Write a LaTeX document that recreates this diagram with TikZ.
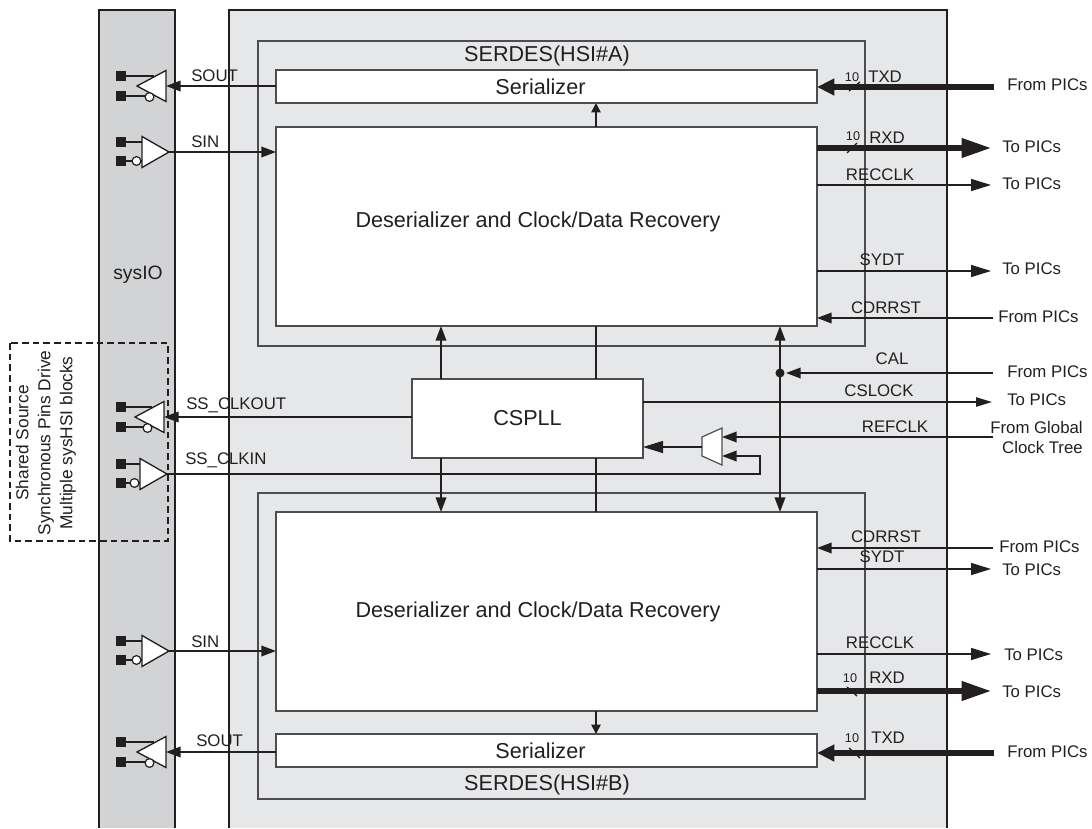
\documentclass[tikz,border=0pt]{standalone}
\usepackage{fontspec}
\setmainfont{Liberation Sans}
\usetikzlibrary{arrows.meta,calc}
\definecolor{ink}{HTML}{231F20}
\definecolor{edge}{HTML}{4D4D4F}
\definecolor{panelgray}{HTML}{E6E7E8}
\definecolor{iogray}{HTML}{D1D3D4}
\newcommand{\txbuf}[3]{% name, base x, centre y
  \coordinate (#1tip) at (#2-29,#3);
  \coordinate (#1base) at (#2,#3);
  \node[pinbox] (#1p) at (121,#3-10) {};
  \node[pinbox] (#1n) at (121,#3+10) {};
  \draw[wire] (#1p.east) -- (#2-12,#3-10);
  \draw[wire] (#1n.east) -- (#2-12,#3+10);
  \draw[buf] (#2-29,#3) -- (#2,#3-15.5) -- (#2,#3+15.5) -- cycle;
  \node[bub] at (#2-16.5,#3+11) {};
}
\newcommand{\rxbuf}[3]{% name, base x, centre y
  \coordinate (#1tip) at (#2+27,#3);
  \node[pinbox] (#1p) at (121,#3-10) {};
  \node[pinbox] (#1n) at (121,#3+9) {};
  \draw[wire] (#1p.east) -- (#2,#3-10);
  \draw[wire] (#1n.east) -- (#2,#3+9);
  \draw[buf] (#2,#3-15.5) -- (#2+27,#3) -- (#2,#3+15.5) -- cycle;
  \node[bub] at (#2-5.5,#3+9) {};
}
\tikzset{
  x=0.75pt,y=-0.75pt,
  wire/.style={draw=ink,line width=1.1pt},
  arr/.style={wire,-{Triangle[length=15pt,width=9pt]}},
  slimarr/.style={wire,-{Triangle[length=12pt,width=7pt]}},
  smallarr/.style={wire,-{Triangle[length=7pt,width=7pt]}},
  midarr/.style={wire,-{Triangle[length=11pt,width=8pt]}},
  busin/.style={wire,line width=3.8pt,-{Triangle[length=13pt,width=12pt,sep=0pt]}},
  busout/.style={wire,line width=3.8pt,-{Triangle[length=22pt,width=14pt]}},
  box/.style={draw=edge,line width=1.2pt,fill=white,anchor=north west,inner sep=0pt,outer sep=0pt,font=\fontsize{16.2pt}{19pt}\selectfont,text=ink},
  frame/.style={draw=edge,line width=1.2pt,fill=panelgray,anchor=north west,inner sep=0pt,outer sep=0pt},
  pinbox/.style={fill=ink,draw=none,minimum size=7.5pt,inner sep=0pt},
  buf/.style={draw=ink,line width=1pt,fill=white,line join=miter},
  bub/.style={circle,draw=ink,line width=0.9pt,fill=white,minimum size=6.6pt,inner sep=0pt},
  lab/.style={font=\fontsize{12.6pt}{15pt}\selectfont,text=ink,inner sep=0pt},
  big/.style={lab,font=\fontsize{16.2pt}{19pt}\selectfont},
  tiny/.style={font=\fontsize{9.5pt}{10pt}\selectfont,text=ink,inner sep=0pt},
}
\begin{document}
\begin{tikzpicture}
\useasboundingbox (0,0) rectangle (1092,828);
% panels
\fill[iogray] (99,10) rectangle (175,828);
\draw[wire] (99,828) -- (99,10) -- (175,10) -- (175,828);
\fill[panelgray] (229,10) rectangle (947,828);
\draw[wire] (229,828) -- (229,10) -- (947,10) -- (947,828);
\node[lab,font=\fontsize{14.5pt}{16pt}\selectfont] (sysio) at (138,275) {sysIO};
% SERDES frames and blocks
\node[frame,minimum width=455.25pt,minimum height=228.75pt] (hsia) at (258,41) {};
\node[frame,minimum width=455.25pt,minimum height=229.5pt] (hsib) at (258,493) {};
\node[big] (hsiatxt) at (547,56) {SERDES(HSI\#A)};
\node[big] (hsibtxt) at (547,785) {SERDES(HSI\#B)};
\node[box,minimum width=405.75pt,minimum height=24.75pt] (serA) at (276,70) {\hspace*{-9pt}Serializer};
\node[box,minimum width=405.75pt,minimum height=149.25pt] (desA) at (276,127) {};
\node[big] (desAtxt) at (538,222) {Deserializer and Clock/Data Recovery};
\node[box,minimum width=405.75pt,minimum height=149.25pt] (desB) at (276,512) {};
\node[big] (desBtxt) at (538,612) {Deserializer and Clock/Data Recovery};
\node[box,minimum width=405.75pt,minimum height=24.75pt] (serB) at (276,734) {\hspace*{-9pt}Serializer};
\node[box,minimum width=173.25pt,minimum height=59.25pt] (pll) at (412,379) {\raisebox{-1.5pt}{CSPLL}};
% mux
\coordinate (muxL) at (702,447);
\coordinate (muxT) at (722,437);
\coordinate (muxU) at (722,456);
\draw[buf,draw=edge,line width=0.9pt] (702,437) -- (722,428) -- (722,465) -- (702,456) -- cycle;
% buffers
\txbuf{ta}{166}{86}
\rxbuf{ra}{142}{152}
\txbuf{tc}{164}{417}
\rxbuf{rc}{140}{474}
\rxbuf{rb}{142}{651}
\txbuf{tb}{166}{752}
% internal vertical connectors
\draw[smallarr] (desA.north -| 596,0) -- (serA.south -| 596,0);
\draw[smallarr] (desB.south -| 596,0) -- (serB.north -| 596,0);
\draw[wire] (pll.north -| 596,0) -- (desA.south -| 596,0);
\draw[wire] (pll.south -| 596,0) -- (desB.north -| 596,0);
\draw[midarr] (pll.north -| 441,0) -- (desA.south -| 441,0);
\draw[midarr] (pll.south -| 441,0) -- (desB.north -| 441,0);
\coordinate (calpt) at (780,373);
\draw[midarr] (calpt) -- (desA.south -| 780,0);
\draw[midarr] (calpt) -- (desB.north -| 780,0);
\fill[ink] (calpt) circle (3.4pt);
% left side signals
\draw[midarr] (serA.west |- tabase) -- (tabase);
\node[lab,anchor=west] (soutA) at (191,76) {SOUT};
\draw[midarr] (ratip) -- (desA.west |- ratip);
\node[lab,anchor=west] (sinA) at (191,142) {SIN};
\draw[midarr] (pll.west |- tctip) -- (tcbase);
\node[lab,anchor=west] (ssout) at (186,405) {SS\_CLKOUT};
\node[lab,anchor=west] (ssin) at (185,460) {SS\_CLKIN};
\draw[wire] (rctip) -- (760,474) -- (760,456) -- (737,456);
\draw[midarr] (737,456) -- (muxU);
\draw[midarr] (ratip |- rbtip) -- (desB.west |- rbtip);
\node[lab,anchor=west] (sinB) at (191,642) {SIN};
\draw[midarr] (serB.west |- tbbase) -- (tbbase);
\node[lab,anchor=west] (soutB) at (196,741) {SOUT};
% mux connectors
\draw[arr] (muxL) -- (pll.east |- muxL);
% right side, top
\node[lab,anchor=west] (f1) at (1007,85) {From PICs};
\coordinate (f1e) at (994,87);
\draw[busin] (f1e) -- (serA.east |- f1e);
\node[lab,anchor=west] (t1) at (1002,147) {To PICs};
\coordinate (t1e) at (991,148);
\draw[busout] (desA.east |- t1e) -- (t1e);
\node[lab,anchor=west] (t2) at (1002,184) {To PICs};
\coordinate (t2e) at (991,185);
\draw[arr] (desA.east |- t2e) -- (t2e);
\node[lab,anchor=west] (t3) at (1002,269) {To PICs};
\coordinate (t3e) at (991,271);
\draw[arr] (desA.east |- t3e) -- (t3e);
\node[lab,anchor=west] (f2) at (998,317) {From PICs};
\coordinate (f2e) at (993,318);
\draw[midarr] (f2e) -- (desA.east |- f2e);
\node[tiny] (n1) at (852,77) {10};
\node[lab,anchor=west] (txa) at (868,77) {TXD};
\node[tiny] (n2) at (853,136) {10};
\node[lab,anchor=west] (rxa) at (869,138) {RXD};
\node[lab] (rca) at (880,175) {RECCLK};
\node[lab] (sya) at (882,260) {SYDT};
\node[lab] (cda) at (886,308) {CDRRST};
\coordinate (s1a) at (849,91); \coordinate (s1b) at (860,82);
\coordinate (s2a) at (847,153); \coordinate (s2b) at (857,143);
\draw[wire,line width=1pt] (s1a) -- (s1b);
\draw[wire,line width=1pt] (s2a) -- (s2b);
% right side, middle
\node[lab,anchor=west] (f3) at (1007,372) {From PICs};
\coordinate (f3e) at (993,373);
\draw[midarr,shorten >=4.5pt] (f3e) -- (calpt);
\node[lab] (cal) at (892,359) {CAL};
\node[lab,anchor=west] (t4) at (1007,400) {To PICs};
\coordinate (t4e) at (992,402);
\draw[slimarr] (pll.east |- t4e) -- (t4e);
\node[lab] (csl) at (879,391) {CSLOCK};
\node[lab,anchor=east,align=right,font=\fontsize{12.6pt}{15pt}\selectfont] (f4) at (1083,437) {From Global\\Clock Tree};
\coordinate (f4e) at (993,437);
\draw[midarr] (f4e) -- (muxT);
\node[lab] (refc) at (895,427) {REFCLK};
% right side, bottom
\node[lab,anchor=west] (f5) at (999,547) {From PICs};
\coordinate (f5e) at (993,548);
\draw[midarr] (f5e) -- (desB.east |- f5e);
\node[lab] (cdb) at (886,537) {CDRRST};
\node[lab,anchor=west] (t5) at (1002,570) {To PICs};
\coordinate (t5e) at (991,569);
\draw[arr] (desB.east |- t5e) -- (t5e);
\node[lab] (syb) at (882,557) {SYDT};
\node[lab,anchor=west] (t6) at (1004,655) {To PICs};
\coordinate (t6e) at (991,654);
\draw[arr] (desB.east |- t6e) -- (t6e);
\node[lab] (rcb) at (880,643) {RECCLK};
\node[lab,anchor=west] (t7) at (1002,692) {To PICs};
\coordinate (t7e) at (991,691);
\draw[busout] (desB.east |- t7e) -- (t7e);
\node[tiny] (n3) at (850,678) {10};
\node[lab,anchor=west] (rxb) at (869,678) {RXD};
\coordinate (s3a) at (847,687); \coordinate (s3b) at (857,696);
\draw[wire,line width=1pt] (s3a) -- (s3b);
\node[lab,anchor=west] (f6) at (1007,752) {From PICs};
\coordinate (f6e) at (994,753);
\draw[busin] (f6e) -- (serB.east |- f6e);
\node[tiny] (n4) at (852,738) {10};
\node[lab,anchor=west] (txb) at (871,738) {TXD};
\coordinate (s4a) at (849,748); \coordinate (s4b) at (860,758);
\draw[wire,line width=1pt] (s4a) -- (s4b);
% dashed group
\draw[draw=ink,line width=0.8pt,dash pattern=on 5pt off 3pt] (10,343) rectangle (168,541);
\node[lab,rotate=90,align=center,font=\fontsize{13pt}{16.5pt}\selectfont] (grp) at (46,443) {Shared Source\\Synchronous Pins Drive\\Multiple sysHSI blocks};
\end{tikzpicture}
\end{document}
